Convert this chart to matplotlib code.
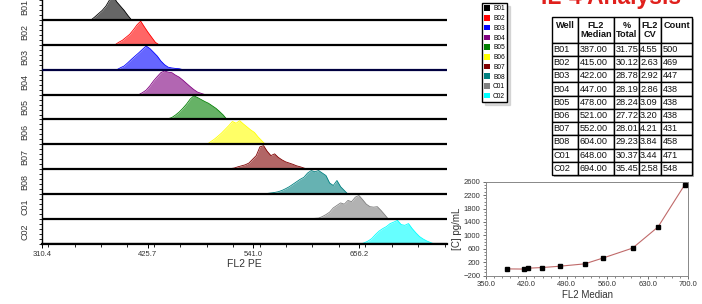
import numpy as np
import matplotlib
matplotlib.use('Agg')
import matplotlib.pyplot as plt
from matplotlib.patches import Patch, Rectangle
from matplotlib.ticker import AutoMinorLocator, MultipleLocator

plt.rcParams['font.family'] = ['Liberation Sans', 'DejaVu Sans']

# wells and colours (same order as legend)
wells = ['B01', 'B02', 'B03', 'B04', 'B05', 'B06', 'B07', 'B08', 'C01', 'C02']
colors = ['#000000', '#ff0000', '#0000ff', '#800080', '#008000',
          '#ffff00', '#800000', '#008080', '#808080', '#00ffff']

# table values
fl2_median = [387.00, 415.00, 422.00, 447.00, 478.00, 521.00, 552.00, 604.00, 648.00, 694.00]
pct_total = [31.75, 30.12, 28.78, 28.19, 28.24, 27.72, 28.01, 29.23, 30.37, 35.45]
fl2_cv = [4.55, 2.63, 2.92, 2.86, 3.09, 3.20, 4.21, 3.84, 3.44, 2.58]
counts = [500, 469, 447, 438, 438, 438, 431, 458, 471, 548]

# standard curve concentrations (pg/mL)
conc = [0, -5, 20, 40, 80, 150, 320, 620, 1250, 2500]

# histograms: first bin (FL2 PE), bin step 4, relative heights
bin_width = 4.0
hist_start = [364, 390, 392, 416, 428, 490, 464, 552, 580, 658]
hist_vals = [
    [0.0, 0.12, 0.25, 0.38, 0.55, 0.8, 0.95, 0.72, 0.55, 0.38, 0.18, 0.0],
    [0.0, 0.1, 0.18, 0.3, 0.42, 0.6, 0.8, 0.95, 0.72, 0.5, 0.3, 0.1, 0.0],
    [0.0, 0.08, 0.15, 0.28, 0.42, 0.55, 0.68, 0.82, 0.95, 0.85, 0.7, 0.55,
     0.35, 0.2, 0.1, 0.07, 0.05, 0.04, 0.0],
    [0.0, 0.08, 0.18, 0.35, 0.55, 0.72, 0.88, 0.95, 0.9, 0.88, 0.78, 0.7,
     0.58, 0.45, 0.32, 0.2, 0.1, 0.05, 0.0],
    [0.02, 0.0, 0.02, 0.03, 0.02, 0.03, 0.08, 0.18, 0.3, 0.45, 0.62, 0.82,
     0.95, 0.88, 0.8, 0.72, 0.65, 0.55, 0.45, 0.32, 0.18, 0.0],
    [0.0, 0.1, 0.2, 0.32, 0.45, 0.6, 0.75, 0.92, 0.85, 0.95, 0.82, 0.7,
     0.58, 0.48, 0.3, 0.15, 0.0],
    [0.03, 0.0, 0.02, 0.03, 0.0, 0.03, 0.03, 0.02, 0.03, 0.0, 0.02, 0.0, 0.0, 0.03,
     0.05, 0.1, 0.14, 0.18, 0.25, 0.4, 0.55, 0.9, 0.95, 0.72, 0.55, 0.62, 0.48,
     0.38, 0.3, 0.25, 0.2, 0.14, 0.1, 0.05, 0.0],
    [0.0, 0.03, 0.05, 0.07, 0.1, 0.15, 0.22, 0.3, 0.4, 0.5, 0.6, 0.68, 0.85,
     0.95, 0.9, 0.95, 0.85, 0.75, 0.45, 0.35, 0.55, 0.3, 0.15, 0.0],
    [0.02, 0.0, 0.02, 0.02, 0.0, 0.02, 0.02, 0.03,
     0.04, 0.1, 0.18, 0.28, 0.45, 0.55, 0.65, 0.6, 0.75, 0.7, 0.88, 0.95, 0.78,
     0.6, 0.5, 0.48, 0.5, 0.35, 0.18, 0.0],
    [0.0, 0.05, 0.12, 0.22, 0.38, 0.52, 0.62, 0.7, 0.82, 0.88, 0.95, 0.78,
     0.75, 0.82, 0.62, 0.45, 0.3, 0.2, 0.12, 0.06, 0.0],
]

x_ticks = [310.4, 425.7, 541.0, 656.2]

W, H = 702, 304
fig = plt.figure(figsize=(W / 100, H / 100), dpi=100)

# ---- stacked histograms ----
ax = fig.add_axes([42 / W, 1 - 244 / H, 405 / W, 249 / H])
n = len(wells)
for i, w in enumerate(wells):
    base = n - 1 - i
    vals = np.array(hist_vals[i])
    xs = hist_start[i] + bin_width * np.arange(len(vals))
    ax.fill_between(xs, base, vals + base, color=colors[i], alpha=0.6, lw=0)
    ax.plot(xs, vals + base, color=colors[i], lw=0.6)
    lc = '#000040' if w == 'B03' else 'black'
    ax.axhline(base, color=lc, lw=1.6, zorder=3)

ax.set_xlim(310.4, 752.0)
ax.set_ylim(0, n)
ax.set_xticks(x_ticks)
ax.set_xticklabels(['%.1f' % t for t in x_ticks])
ax.xaxis.set_minor_locator(MultipleLocator(115.3 / 4))
ax.set_yticks([n - 1 - i + 0.5 for i in range(n)])
ax.set_yticklabels(wells, rotation=90, va='center', fontsize=6.5, color='#333333')
ax.yaxis.set_minor_locator(MultipleLocator(0.2))
ax.tick_params(axis='y', which='major', length=0, pad=9)
ax.tick_params(axis='y', which='minor', length=2, width=0.6)
ax.tick_params(axis='x', which='major', length=3, width=0.7, labelsize=5.5,
               labelcolor='#333333', pad=2)
ax.tick_params(axis='x', which='minor', length=2, width=0.6)
for s in ['top', 'right']:
    ax.spines[s].set_visible(False)
ax.spines['left'].set_linewidth(1.0)
ax.spines['bottom'].set_linewidth(1.6)
ax.set_xlabel('FL2 PE', fontsize=7.5, color='#333333', labelpad=1)

# ---- legend ----
handles = [Patch(facecolor=c, edgecolor='none') for c in colors]
fig.legend(handles, wells, loc='upper left', bbox_to_anchor=(482 / W, 1 - 3 / H),
           fontsize=4.8, handlelength=0.9, handleheight=0.9, handletextpad=0.4,
           labelspacing=0.4, borderpad=0.35, borderaxespad=0, fancybox=False,
           shadow={'color': '#bbbbbb'}, edgecolor='black', framealpha=1)

# ---- title (top cropped as in the original) ----
fig.text(611 / W, 1 - 4 / H, 'IL-4 Analysis', color='#e0201c', fontsize=16.5,
         fontweight='bold', ha='center', va='baseline')

# ---- table ----
tx0, tx1, ty0, ty1 = 552, 692, 17, 175
tax = fig.add_axes([tx0 / W, 1 - ty1 / H, (tx1 - tx0) / W, (ty1 - ty0) / H])
tax.axis('off')
tax.add_patch(Rectangle((0.016, -0.014), 1, 1, transform=tax.transAxes,
                        clip_on=False, facecolor='#b0b0b0', edgecolor='none', zorder=0))
header = ['Well\n ', 'FL2\nMedian', '%\nTotal', 'FL2\nCV', 'Count\n ']
rows = [[w, '%.2f' % m, '%.2f' % p, '%.2f' % c, '%d' % k]
        for w, m, p, c, k in zip(wells, fl2_median, pct_total, fl2_cv, counts)]
col_w = [26, 36, 25, 22, 31]
tbl = tax.table(cellText=rows, colLabels=header, colWidths=[c / 140 for c in col_w],
                cellLoc='left', bbox=[0, 0, 1, 1])
tbl.set_zorder(3)
tbl.auto_set_font_size(False)
for (r, c), cell in tbl.get_celld().items():
    cell.set_linewidth(1.0)
    cell.set_edgecolor('black')
    cell.set_facecolor('white')
    cell.PAD = 0.05
    txt = cell.get_text()
    txt.set_fontsize(6.6)
    txt.set_color('#111111')
    if r == 0:
        cell.set_height(cell.get_height() * 1.95)
        txt.set_fontweight('bold')
        txt.set_linespacing(1.0)
        if c in (1, 2, 3):
            txt.set_ha('center')
            txt.set_multialignment('center')

# ---- standard curve ----
sax = fig.add_axes([486 / W, 1 - 275.6 / H, 202 / W, 93.9 / H])
sax.plot(fl2_median, conc, color='#c06a6a', lw=0.8, zorder=2)
sax.plot(fl2_median, conc, 's', color='black', ms=2.2, zorder=3)
sax.set_xlim(350, 700)
sax.set_ylim(-200, 2600)
sax.set_xticks(np.arange(350, 701, 70))
sax.set_xticklabels(['%.1f' % v for v in np.arange(350, 701, 70)])
sax.set_yticks(np.arange(-200, 2601, 400))
sax.xaxis.set_minor_locator(AutoMinorLocator(5))
sax.yaxis.set_minor_locator(AutoMinorLocator(4))
sax.tick_params(which='major', length=2.5, width=0.6, labelsize=5.5,
                labelcolor='#333333', pad=1.5, color='#555555')
sax.tick_params(which='minor', length=1.5, width=0.5, color='#555555')
for s in sax.spines.values():
    s.set_color('#888888')
    s.set_linewidth(0.7)
sax.set_xlabel('FL2 Median', fontsize=7, color='#333333', labelpad=1)
sax.set_ylabel('[C] pg/mL', fontsize=7, color='#333333', labelpad=1)

fig.savefig('out.png', dpi=100)
